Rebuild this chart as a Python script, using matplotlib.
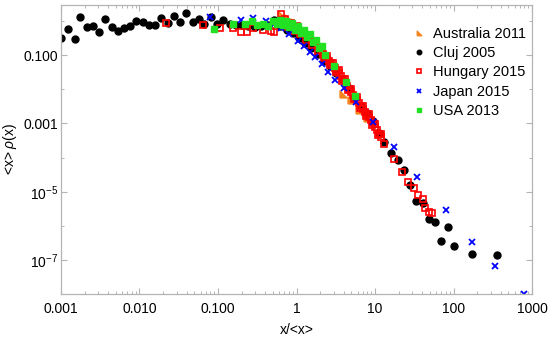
import numpy as np
import matplotlib
matplotlib.use('Agg')
import matplotlib.pyplot as plt
from matplotlib.ticker import FixedLocator, FixedFormatter, NullFormatter

plt.rcParams['font.family'] = ['Liberation Sans', 'DejaVu Sans']
plt.rcParams['mathtext.fontset'] = 'custom'
plt.rcParams['mathtext.rm'] = 'Liberation Sans'
plt.rcParams['mathtext.it'] = 'Liberation Sans:italic'

# data (x/<x>, <x> rho(x))
aus_x = [0.645, 0.769, 0.918, 1.095, 1.306, 1.560, 1.859, 2.218, 2.646, 3.157, 3.88, 4.909, 6.21, 7.86]
aus_y = [1.48, 1.21, 0.922, 0.659, 0.503, 0.360, 0.240, 0.140, 0.0817, 0.0446, 0.00724, 0.00483, 0.00246, 0.00144]

cluj_x = [0.001, 0.00123, 0.00151, 0.00175, 0.00215, 0.00256, 0.00306, 0.00365, 0.00448, 0.00535,
          0.00638, 0.00760, 0.00908, 0.01114, 0.0133, 0.01587, 0.01892, 0.02325, 0.02773, 0.0331,
          0.0395, 0.0485, 0.0578, 0.0670, 0.0824, 0.0982, 0.117, 0.144,
          0.172, 0.205, 0.244, 0.300, 0.358, 0.428, 0.510, 0.608, 0.747, 0.891, 1.063, 1.268,
          1.513, 1.859, 2.218, 2.646, 3.157, 3.88, 4.63, 5.52, 6.59, 7.86, 9.37, 11.2,
          12.9, 15.9, 19.5, 23.3, 27.8, 33.2, 40.8, 48.6, 58.0, 69.2, 85.1, 101, 172, 359]
cluj_y = [0.314, 0.575, 0.294, 1.29, 0.659, 0.705, 0.471, 1.13, 0.659, 0.503,
          0.616, 0.705, 0.986, 0.922, 0.754, 0.754, 1.21, 0.862, 1.38, 0.922,
          1.69, 0.922, 1.13, 0.806, 1.29, 0.806, 1.05, 0.806,
          0.754, 0.754, 0.705, 0.659, 0.705, 0.754, 1.05, 0.705, 0.538, 0.440, 0.314, 0.224,
          0.160, 0.107, 0.0668, 0.0477, 0.0298, 0.0186, 0.0108, 0.00591, 0.00323, 0.00201, 0.00117, 5.24e-4,
          2.86e-4, 1.36e-4, 8.5e-5, 4.34e-5, 1.58e-5, 5.38e-6, 4.71e-6, 1.60e-6, 1.31e-6, 3.64e-7,
          9.35e-7, 2.60e-7, 1.52e-7, 1.42e-7]

hun_x = [0.0219, 0.0651, 0.107, 0.153, 0.199, 0.237, 0.283, 0.369, 0.467, 0.510, 0.627,
         0.705, 0.769, 0.841, 0.918, 1.003, 1.095, 1.197, 1.306, 1.427, 1.560, 1.702, 1.859,
         2.031, 2.218, 2.421, 2.646, 2.891, 3.157, 3.448, 3.767, 4.113, 4.493, 4.909, 5.358,
         5.854, 6.397, 6.982, 7.621, 8.337, 9.099, 9.93, 10.85, 11.86,
         2.154, 2.285, 2.421, 2.570, 2.725, 2.891, 3.066, 3.251, 3.448, 3.657, 3.88, 4.113,
         4.362, 4.63, 4.909, 5.206, 5.52, 5.854, 6.21, 6.59, 6.982, 7.405, 7.86, 8.337,
         8.84, 9.37, 9.93, 10.54, 11.2, 11.86,
         12.9, 17.4, 22.0, 26.2, 31.3, 35.2, 40.8, 43.2, 48.6, 53.1]
hun_y = [0.862, 0.754, 0.616, 0.616, 0.471, 0.471, 0.616, 0.538, 0.503, 0.471, 1.58,
         1.13, 0.659, 0.862, 0.503, 0.705, 0.411, 0.503, 0.275, 0.336, 0.196, 0.240, 0.131,
         0.150, 0.0817, 0.0935, 0.0511, 0.0583, 0.0318, 0.0364, 0.0174, 0.0199, 0.00948, 0.0101, 0.00517,
         0.00591, 0.00282, 0.00323, 0.00164, 0.00188, 8.98e-4, 9.60e-4, 4.58e-4, 4.90e-4,
         0.1062, 0.0916, 0.0785, 0.0677, 0.0583, 0.0490, 0.0411, 0.0345, 0.0290, 0.0243, 0.0196, 0.0158,
         0.0127, 0.01027, 0.00828, 0.00686, 0.00568, 0.00471, 0.00390, 0.00323, 0.00267, 0.00221, 0.00183, 0.00152,
         0.00126, 0.00100, 7.96e-4, 6.33e-4, 5.03e-4, 4.00e-4,
         2.50e-4, 9.1e-5, 3.79e-5, 1.94e-5, 1.29e-5, 8.05e-6, 6.15e-6, 3.36e-6, 2.57e-6, 2.40e-6]

jap_x = [0.080, 0.199, 0.283, 0.403, 0.510, 0.627, 0.793, 1.033, 1.232, 1.469, 1.702, 2.092,
         2.495, 3.066, 3.99, 5.69, 9.37, 17.4, 34.2, 80.2, 172, 339, 794]
jap_y = [1.29, 1.05, 1.21, 0.986, 0.806, 0.616, 0.411, 0.257, 0.183, 0.122, 0.0874, 0.0546,
         0.0318, 0.0186, 0.0108, 0.00422, 0.00110, 2.04e-4, 2.71e-5, 2.94e-6, 3.40e-7, 6.77e-8, 1.0e-8]

usa_x = [0.0900, 0.157, 0.224, 0.275, 0.318, 0.369, 0.428, 0.495, 0.557, 0.608, 0.664, 0.726,
         0.793, 0.865, 0.946, 1.033, 1.128, 1.232, 1.345, 1.469, 1.605, 1.753, 1.915, 2.092,
         2.285, 2.977, 4.24, 5.52]
usa_y = [0.575, 0.806, 0.806, 0.986, 0.754, 0.806, 0.705, 0.986, 0.806, 1.05, 0.754, 0.986,
         0.659, 0.862, 0.538, 0.705, 0.440, 0.538, 0.336, 0.411, 0.240, 0.275, 0.160, 0.183,
         0.100, 0.0477, 0.0162, 0.00632]

xticks = [0.001, 0.01, 0.1, 1, 10, 100, 1000]
xticklabels = ['0.001', '0.010', '0.100', '1', '10', '100', '1000']
yticks = [1e-7, 1e-5, 1e-3, 1e-1]
yticklabels = [r'$10^{-7}$', r'$10^{-5}$', '0.001', '0.100']

tri = [(-1, -1), (1, -1), (-1, 1), (-1, -1)]

fig = plt.figure(figsize=(5.5, 3.39), dpi=100)
ax = fig.add_axes([0.1109, 0.1327, 0.8564, 0.854])

ax.plot(aus_x, aus_y, ls='none', marker=tri, ms=5, color='#f5841f', mec='#f5841f', label='Australia 2011')
ax.plot(cluj_x, cluj_y, ls='none', marker='o', ms=5, color='black', label='Cluj 2005')
ax.plot(hun_x, hun_y, ls='none', marker='s', ms=4.5, mfc='none', mec='#ff0000', mew=1.2, label='Hungary 2015')
ax.plot(jap_x, jap_y, ls='none', marker='x', ms=4.6, mec='#0000ff', mew=1.3, label='Japan 2015')
ax.plot(usa_x, usa_y, ls='none', marker='s', ms=5, color='#22e022', label='USA 2013')

ax.set_xscale('log')
ax.set_yscale('log')
ax.set_xlim(1e-3, 1e3)
ax.set_ylim(1.03e-8, 3.0)

ax.xaxis.set_major_locator(FixedLocator(xticks))
ax.xaxis.set_major_formatter(FixedFormatter(xticklabels))
ax.yaxis.set_major_locator(FixedLocator(yticks))
ax.yaxis.set_major_formatter(FixedFormatter(yticklabels))
ax.yaxis.set_minor_locator(FixedLocator([1e-8, 1e-6, 1e-4, 1e-2, 1]))
ax.yaxis.set_minor_formatter(NullFormatter())

for s in ax.spines.values():
    s.set_color('#b4b4b4')
    s.set_linewidth(0.9)
ax.tick_params(which='both', direction='in', top=True, right=True, color='#b4b4b4', labelsize=10, labelcolor='black')
ax.tick_params(which='major', length=4, width=0.8)
ax.tick_params(which='minor', length=2.2, width=0.7)
ax.tick_params(axis='x', which='major', pad=5.5)
ax.tick_params(axis='y', which='major', pad=2)

ax.set_xlabel('x/<x>', fontsize=10, labelpad=5)
ax.set_ylabel(r'<x> $\rho$(x)', fontsize=10, labelpad=3)

ax.legend(loc='upper left', bbox_to_anchor=(0.73, 0.948), frameon=False, fontsize=10.5,
          handlelength=1.0, handletextpad=0.4, labelspacing=0.36, borderpad=0, markerscale=0.65)

fig.savefig('out.png', dpi=100)
